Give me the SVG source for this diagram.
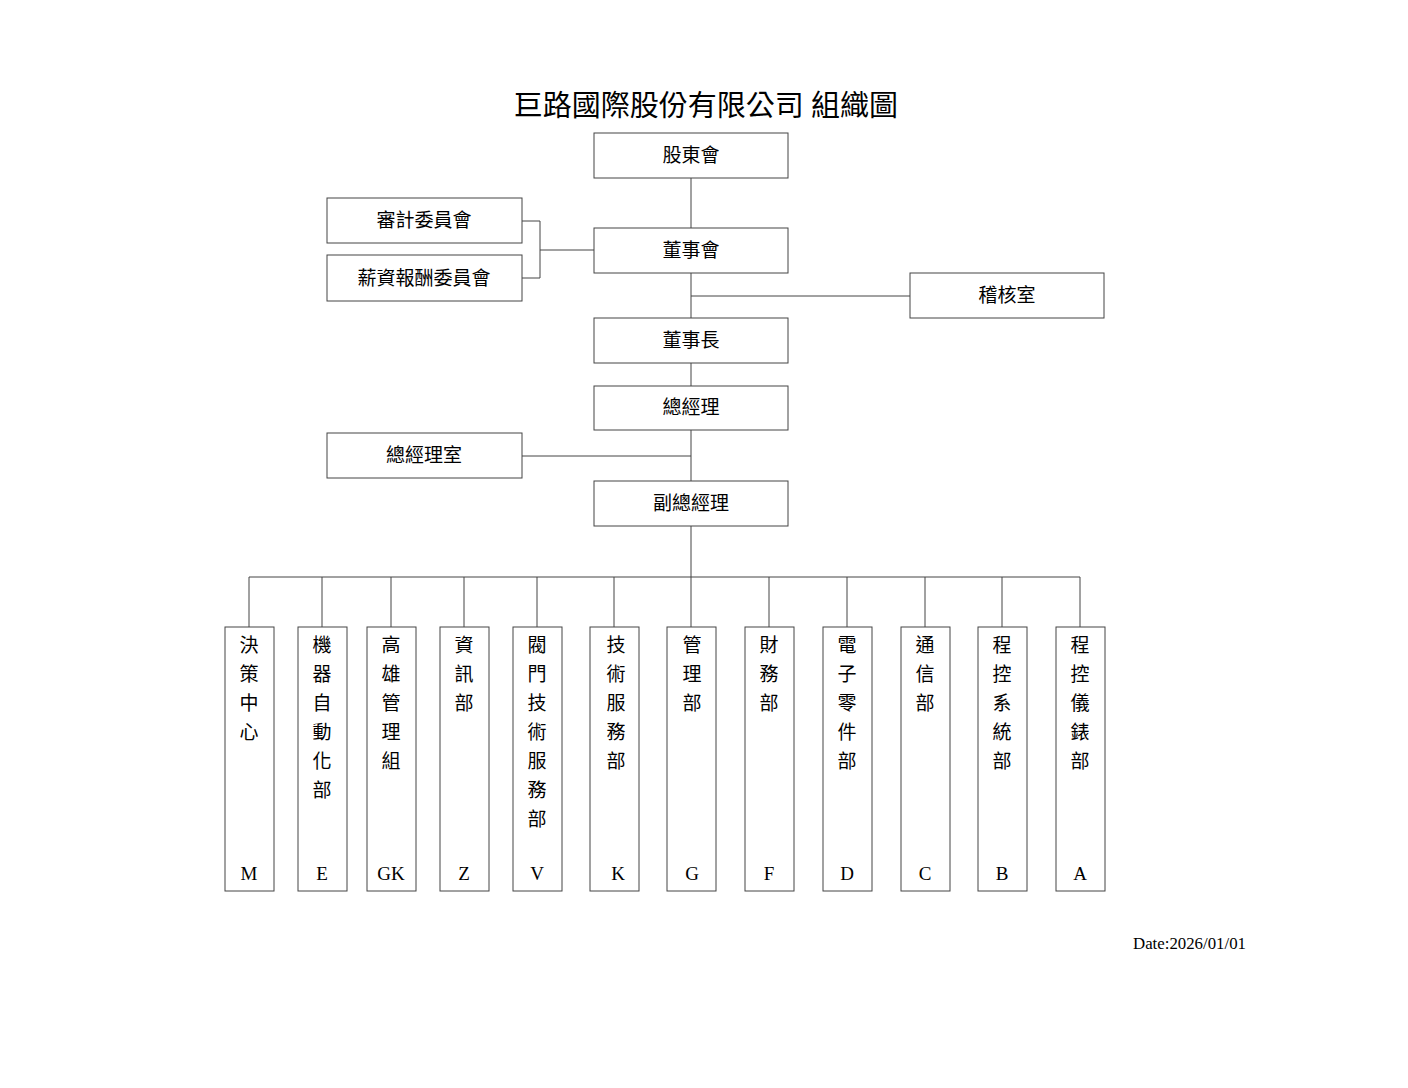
<svg xmlns="http://www.w3.org/2000/svg" width="1408" height="1088" viewBox="0 0 1408 1088">
<style>
text{font-family:"Liberation Serif","Noto Sans CJK TC",serif;fill:#000}
.b{fill:#fff;stroke:#444;stroke-width:1}
.t{font-size:19px;text-anchor:middle}
.v{font-size:19px;text-anchor:middle}
.c line,.c polyline{stroke:#444;stroke-width:1;fill:none}
</style>
<rect width="1408" height="1088" fill="#fff"/>
<text x="706" y="116" style="font-size:29px" text-anchor="middle">巨路國際股份有限公司  組織圖</text>
<g class="c">
<line x1="691" y1="178" x2="691" y2="577"/>
<polyline points="522,221 540,221 540,278 522,278"/>
<line x1="540" y1="250" x2="594" y2="250"/>
<line x1="691" y1="296" x2="910" y2="296"/>
<line x1="522" y1="456" x2="691" y2="456"/>
<line x1="249" y1="577" x2="1080" y2="577"/>
<line x1="249" y1="577" x2="249" y2="627"/><line x1="322" y1="577" x2="322" y2="627"/><line x1="391" y1="577" x2="391" y2="627"/><line x1="464" y1="577" x2="464" y2="627"/><line x1="537" y1="577" x2="537" y2="627"/><line x1="614" y1="577" x2="614" y2="627"/><line x1="691" y1="577" x2="691" y2="627"/><line x1="769" y1="577" x2="769" y2="627"/><line x1="847" y1="577" x2="847" y2="627"/><line x1="925" y1="577" x2="925" y2="627"/><line x1="1002" y1="577" x2="1002" y2="627"/><line x1="1080" y1="577" x2="1080" y2="627"/>
</g>
<g id="n1"><rect class="b" x="594" y="133" width="194" height="45"/><text class="t" x="691" y="162">股東會</text></g>
<g id="n2"><rect class="b" x="327" y="198" width="195" height="45"/><text class="t" x="424" y="227">審計委員會</text></g>
<g id="n3"><rect class="b" x="327" y="255" width="195" height="46"/><text class="t" x="424" y="285">薪資報酬委員會</text></g>
<g id="n4"><rect class="b" x="594" y="228" width="194" height="45"/><text class="t" x="691" y="257">董事會</text></g>
<g id="n5"><rect class="b" x="910" y="273" width="194" height="45"/><text class="t" x="1007" y="302">稽核室</text></g>
<g id="n6"><rect class="b" x="594" y="318" width="194" height="45"/><text class="t" x="691" y="347">董事長</text></g>
<g id="n7"><rect class="b" x="594" y="386" width="194" height="44"/><text class="t" x="691" y="414">總經理</text></g>
<g id="n8"><rect class="b" x="327" y="433" width="195" height="45"/><text class="t" x="424" y="462">總經理室</text></g>
<g id="n9"><rect class="b" x="594" y="481" width="194" height="45"/><text class="t" x="691" y="510">副總經理</text></g>
<g id="d1"><rect class="b" x="225" y="627" width="49" height="264"/><text class="v" x="249"><tspan x="249" y="652">決</tspan><tspan x="249" dy="29">策</tspan><tspan x="249" dy="29">中</tspan><tspan x="249" dy="29">心</tspan><tspan x="249" y="880">M</tspan></text></g>
<g id="d2"><rect class="b" x="298" y="627" width="49" height="264"/><text class="v"><tspan x="322" y="652">機</tspan><tspan x="322" dy="29">器</tspan><tspan x="322" dy="29">自</tspan><tspan x="322" dy="29">動</tspan><tspan x="322" dy="29">化</tspan><tspan x="322" dy="29">部</tspan><tspan x="322" y="880">E</tspan></text></g>
<g id="d3"><rect class="b" x="367" y="627" width="49" height="264"/><text class="v"><tspan x="391" y="652">高</tspan><tspan x="391" dy="29">雄</tspan><tspan x="391" dy="29">管</tspan><tspan x="391" dy="29">理</tspan><tspan x="391" dy="29">組</tspan><tspan x="391" y="880">GK</tspan></text></g>
<g id="d4"><rect class="b" x="440" y="627" width="49" height="264"/><text class="v"><tspan x="464" y="652">資</tspan><tspan x="464" dy="29">訊</tspan><tspan x="464" dy="29">部</tspan><tspan x="464" y="880">Z</tspan></text></g>
<g id="d5"><rect class="b" x="513" y="627" width="49" height="264"/><text class="v"><tspan x="537" y="652">閥</tspan><tspan x="537" dy="29">門</tspan><tspan x="537" dy="29">技</tspan><tspan x="537" dy="29">術</tspan><tspan x="537" dy="29">服</tspan><tspan x="537" dy="29">務</tspan><tspan x="537" dy="29">部</tspan><tspan x="537" y="880">V</tspan></text></g>
<g id="d6"><rect class="b" x="590" y="627" width="49" height="264"/><text class="v"><tspan x="616" y="652">技</tspan><tspan x="616" dy="29">術</tspan><tspan x="616" dy="29">服</tspan><tspan x="616" dy="29">務</tspan><tspan x="616" dy="29">部</tspan><tspan x="618" y="880">K</tspan></text></g>
<g id="d7"><rect class="b" x="667" y="627" width="49" height="264"/><text class="v"><tspan x="692" y="652">管</tspan><tspan x="692" dy="29">理</tspan><tspan x="692" dy="29">部</tspan><tspan x="692" y="880">G</tspan></text></g>
<g id="d8"><rect class="b" x="745" y="627" width="49" height="264"/><text class="v"><tspan x="769" y="652">財</tspan><tspan x="769" dy="29">務</tspan><tspan x="769" dy="29">部</tspan><tspan x="769" y="880">F</tspan></text></g>
<g id="d9"><rect class="b" x="823" y="627" width="49" height="264"/><text class="v"><tspan x="847" y="652">電</tspan><tspan x="847" dy="29">子</tspan><tspan x="847" dy="29">零</tspan><tspan x="847" dy="29">件</tspan><tspan x="847" dy="29">部</tspan><tspan x="847" y="880">D</tspan></text></g>
<g id="d10"><rect class="b" x="901" y="627" width="49" height="264"/><text class="v"><tspan x="925" y="652">通</tspan><tspan x="925" dy="29">信</tspan><tspan x="925" dy="29">部</tspan><tspan x="925" y="880">C</tspan></text></g>
<g id="d11"><rect class="b" x="978" y="627" width="49" height="264"/><text class="v"><tspan x="1002" y="652">程</tspan><tspan x="1002" dy="29">控</tspan><tspan x="1002" dy="29">系</tspan><tspan x="1002" dy="29">統</tspan><tspan x="1002" dy="29">部</tspan><tspan x="1002" y="880">B</tspan></text></g>
<g id="d12"><rect class="b" x="1056" y="627" width="49" height="264"/><text class="v"><tspan x="1080" y="652">程</tspan><tspan x="1080" dy="29">控</tspan><tspan x="1080" dy="29">儀</tspan><tspan x="1080" dy="29">錶</tspan><tspan x="1080" dy="29">部</tspan><tspan x="1080" y="880">A</tspan></text></g>
<text x="1133" y="949" style="font-size:17px" textLength="113" lengthAdjust="spacingAndGlyphs">Date:2026/01/01</text>
</svg>
